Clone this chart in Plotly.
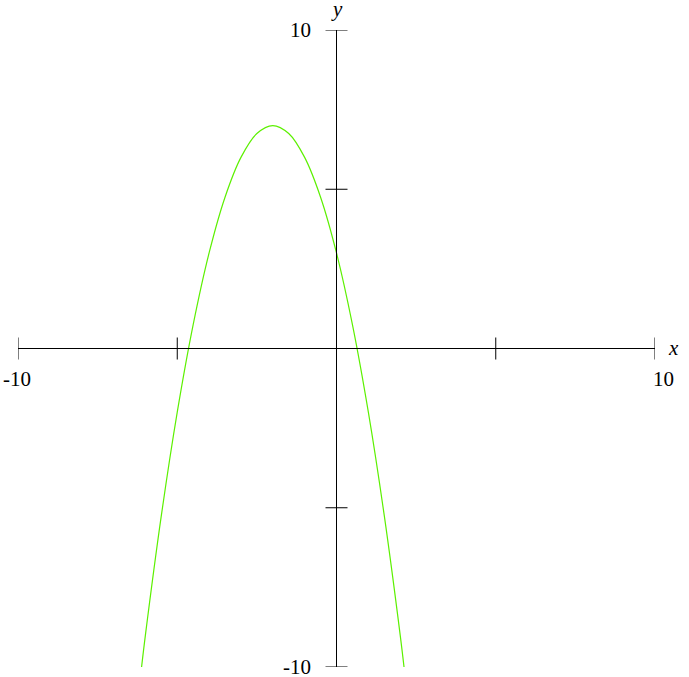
import plotly.graph_objects as go

# Curve points
curve_x = [-6.12, -6, -5.5, -5, -4.5, -4, -3.5, -3, -2.5, -2, -1.5, -1, -0.5, 0, 0.5, 1, 1.5, 2, 2.12]
curve_y = [-10, -9, -5.25, -2, 0.75, 3, 4.75, 6, 6.75, 7, 6.75, 6, 4.75, 3, 0.75, -2, -5.25, -9, -10]

x_ticks = [-10, -5, 5, 10]
y_ticks = [-10, -5, 5, 10]
x_tick_labels = {-10: "-10", 10: "10"}
y_tick_labels = {-10: "-10", 10: "10"}

W, H = 689, 677
L, R, T, B = 18, 34, 30, 10
unit = (W - L - R) / 20.0

fig = go.Figure()
fig.add_trace(go.Scatter(x=curve_x, y=curve_y, mode="lines",
                         line=dict(color="#5cf000", width=1.2, shape="spline", smoothing=1.0),
                         hoverinfo="skip", showlegend=False))

shapes = []
shapes.append(dict(type="line", xref="x", yref="y", x0=-10, x1=10, y0=0, y1=0,
                   line=dict(color="black", width=1)))
shapes.append(dict(type="line", xref="x", yref="y", x0=0, x1=0, y0=-10, y1=10,
                   line=dict(color="black", width=1)))
tick_half = 11 / unit
for t in x_ticks:
    shapes.append(dict(type="line", xref="x", yref="y", x0=t, x1=t, y0=-tick_half, y1=tick_half,
                       line=dict(color="black", width=1)))
for t in y_ticks:
    shapes.append(dict(type="line", xref="x", yref="y", x0=-tick_half, x1=tick_half, y0=t, y1=t,
                       line=dict(color="black", width=1)))

serif = "Liberation Serif, Times New Roman, Times, serif"
font = dict(family=serif, size=21, color="black")
ann = []
for t, s in x_tick_labels.items():
    xs = -1 if t < 0 else 8
    ann.append(dict(x=t, y=0, xref="x", yref="y", text=s, showarrow=False, font=font,
                    xanchor="center", yanchor="middle", xshift=xs, yshift=-30))
for t, s in y_tick_labels.items():
    ann.append(dict(x=0, y=t, xref="x", yref="y", text=s, showarrow=False, font=font,
                    xanchor="right", yanchor="middle", xshift=-24, yshift=0))
ann.append(dict(x=10, y=0, xref="x", yref="y", text="<i>x</i>", showarrow=False, font=font,
                xanchor="center", yanchor="middle", xshift=18, yshift=1))
ann.append(dict(x=0, y=10, xref="x", yref="y", text="<i>y</i>", showarrow=False, font=font,
                xanchor="center", yanchor="middle", xshift=0, yshift=21))

fig.update_layout(
    width=W, height=H,
    margin=dict(l=L, r=R, t=T, b=B, pad=0),
    paper_bgcolor="white", plot_bgcolor="white",
    font=dict(family=serif),
    xaxis=dict(range=[-10, 10], visible=False, fixedrange=True),
    yaxis=dict(range=[-10, 10], visible=False, fixedrange=True),
    shapes=shapes, annotations=ann, showlegend=False,
)
fig.write_html("out.html", config={"displayModeBar": False},
               post_script="document.body.style.margin='0';document.body.style.overflow='hidden';")
